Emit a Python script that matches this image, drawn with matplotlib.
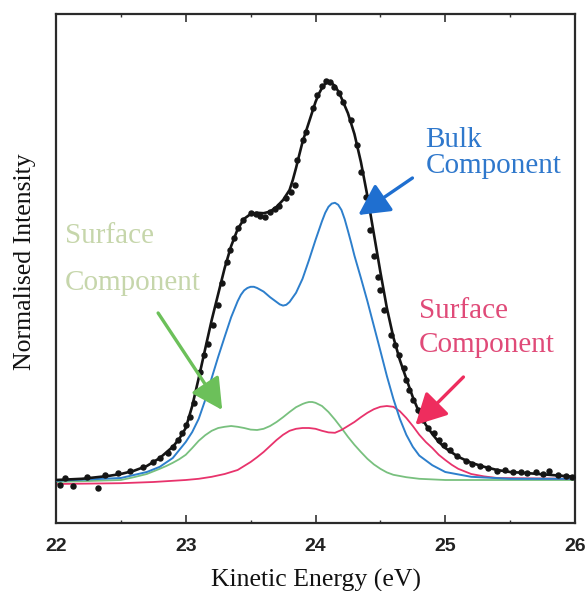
import matplotlib
matplotlib.use("Agg")
import matplotlib.pyplot as plt
from matplotlib.ticker import MultipleLocator, NullLocator

# ---------------- data ----------------
# measured data points (dots)
dot_energy = [22.03, 22.07, 22.13, 22.24, 22.32, 22.38, 22.48, 22.57, 22.67, 22.75,
              22.80, 22.86, 22.90, 22.94, 22.97, 23.00, 23.03, 23.06, 23.09, 23.11,
              23.14, 23.17, 23.21, 23.25, 23.28, 23.32, 23.34, 23.37, 23.40, 23.44,
              23.50, 23.54, 23.57, 23.61, 23.65, 23.69, 23.72, 23.77, 23.81, 23.84,
              23.86, 23.90, 23.93, 23.98, 24.01, 24.05, 24.08, 24.11, 24.14, 24.18,
              24.21, 24.27, 24.32, 24.35, 24.39, 24.42, 24.45, 24.48, 24.50, 24.53,
              24.58, 24.61, 24.64, 24.68, 24.70, 24.72, 24.75, 24.79, 24.83, 24.87,
              24.91, 24.95, 24.99, 25.04, 25.09, 25.16, 25.21, 25.27, 25.33, 25.40,
              25.46, 25.52, 25.58, 25.63, 25.70, 25.75, 25.80, 25.87, 25.93, 25.98]
dot_intensity = [-0.008, 0.010, -0.010, 0.013, -0.015, 0.018, 0.023, 0.028, 0.038, 0.050,
                 0.060, 0.073, 0.088, 0.105, 0.123, 0.143, 0.163, 0.198, 0.225, 0.275,
                 0.318, 0.345, 0.393, 0.443, 0.498, 0.550, 0.580, 0.610, 0.635, 0.655,
                 0.673, 0.670, 0.665, 0.663, 0.675, 0.683, 0.690, 0.710, 0.725, 0.743,
                 0.805, 0.855, 0.875, 0.935, 0.968, 0.990, 1.003, 1.000, 0.988, 0.973,
                 0.950, 0.905, 0.843, 0.775, 0.713, 0.630, 0.565, 0.513, 0.480, 0.430,
                 0.368, 0.343, 0.318, 0.285, 0.255, 0.230, 0.205, 0.180, 0.155, 0.135,
                 0.123, 0.105, 0.093, 0.080, 0.065, 0.053, 0.045, 0.040, 0.035, 0.028,
                 0.030, 0.025, 0.025, 0.023, 0.025, 0.020, 0.028, 0.018, 0.015, 0.013]

# total fit (black line)
fit_energy = [22.0, 22.2, 22.4, 22.5, 22.6, 22.7, 22.8, 22.9, 22.95, 23.0, 23.05, 23.1,
              23.15, 23.2, 23.25, 23.3, 23.35, 23.4, 23.45, 23.5, 23.55, 23.6, 23.65,
              23.7, 23.75, 23.8, 23.825, 23.85, 23.875, 23.9, 23.95, 24.0, 24.025, 24.05,
              24.075, 24.1, 24.125, 24.15, 24.175, 24.2, 24.25, 24.3, 24.35, 24.4, 24.45,
              24.5, 24.55, 24.6, 24.65, 24.7, 24.75, 24.8, 24.85, 24.9, 24.95, 25.0,
              25.1, 25.2, 25.3, 25.4, 25.5, 25.6, 25.8, 26.0]
fit_intensity = [0.005, 0.008, 0.015, 0.020, 0.028, 0.040, 0.060, 0.088, 0.108, 0.135,
                 0.190, 0.260, 0.333, 0.405, 0.470, 0.535, 0.590, 0.632, 0.658, 0.670,
                 0.673, 0.672, 0.676, 0.688, 0.705, 0.730, 0.755, 0.785, 0.818, 0.850,
                 0.900, 0.950, 0.970, 0.985, 0.996, 1.000, 0.997, 0.990, 0.977, 0.960,
                 0.922, 0.870, 0.800, 0.715, 0.620, 0.525, 0.435, 0.362, 0.305, 0.258,
                 0.212, 0.173, 0.143, 0.120, 0.100, 0.085, 0.063, 0.048, 0.038, 0.030,
                 0.025, 0.023, 0.018, 0.013]

# bulk component (blue)
bulk_energy = [22.0, 22.5, 22.7, 22.8, 22.9, 23.0, 23.05, 23.1, 23.15, 23.2, 23.25,
               23.3, 23.35, 23.4, 23.425, 23.45, 23.475, 23.5, 23.525, 23.55, 23.6,
               23.65, 23.7, 23.725, 23.75, 23.775, 23.8, 23.85, 23.9, 23.95, 24.0, 24.05,
               24.075, 24.1, 24.125, 24.15, 24.175, 24.2, 24.225, 24.25, 24.275, 24.3,
               24.35, 24.4, 24.45, 24.5, 24.55, 24.6, 24.65, 24.7, 24.75, 24.8, 24.9,
               25.0, 25.2, 25.5, 26.0]
bulk_intensity = [0.003, 0.010, 0.025, 0.038, 0.060, 0.100, 0.125, 0.158, 0.205, 0.260,
                  0.313, 0.363, 0.412, 0.452, 0.468, 0.479, 0.485, 0.488, 0.488, 0.485,
                  0.476, 0.462, 0.450, 0.444, 0.441, 0.443, 0.450, 0.473, 0.508, 0.555,
                  0.605, 0.652, 0.673, 0.688, 0.696, 0.698, 0.693, 0.680, 0.657, 0.628,
                  0.598, 0.566, 0.510, 0.452, 0.390, 0.328, 0.265, 0.208, 0.158, 0.118,
                  0.088, 0.066, 0.042, 0.025, 0.013, 0.008, 0.008]

# surface component (green)
surf1_energy = [22.0, 22.5, 22.6, 22.7, 22.8, 22.85, 22.9, 22.95, 23.0, 23.05, 23.1,
                23.15, 23.2, 23.25, 23.3, 23.35, 23.4, 23.45, 23.5, 23.55, 23.6, 23.65,
                23.7, 23.75, 23.8, 23.85, 23.9, 23.925, 23.95, 23.975, 24.0, 24.05, 24.1,
                24.15, 24.2, 24.25, 24.3, 24.35, 24.4, 24.45, 24.5, 24.55, 24.6, 24.7,
                24.8, 25.0, 26.0]
surf1_intensity = [0.000, 0.005, 0.012, 0.020, 0.033, 0.040, 0.048, 0.057, 0.068, 0.085,
                   0.103, 0.117, 0.128, 0.135, 0.138, 0.140, 0.138, 0.135, 0.131, 0.130,
                   0.133, 0.140, 0.150, 0.162, 0.175, 0.187, 0.195, 0.198, 0.200, 0.200,
                   0.198, 0.190, 0.175, 0.156, 0.135, 0.113, 0.093, 0.075, 0.058, 0.044,
                   0.033, 0.024, 0.018, 0.012, 0.008, 0.005, 0.005]

# surface component (pink)
surf2_energy = [22.0, 22.5, 22.75, 23.0, 23.1, 23.2, 23.3, 23.4, 23.45, 23.5, 23.55,
                23.6, 23.65, 23.7, 23.75, 23.8, 23.85, 23.9, 23.95, 24.0, 24.05, 24.1,
                24.15, 24.2, 24.25, 24.3, 24.35, 24.4, 24.45, 24.5, 24.55, 24.6, 24.65,
                24.7, 24.75, 24.8, 24.85, 24.9, 24.95, 25.0, 25.05, 25.1, 25.2, 25.3,
                25.4, 26.0]
surf2_intensity = [-0.005, -0.003, 0.000, 0.005, 0.008, 0.013, 0.020, 0.030, 0.040, 0.050,
                   0.062, 0.075, 0.090, 0.105, 0.118, 0.128, 0.133, 0.135, 0.135, 0.133,
                   0.128, 0.124, 0.123, 0.130, 0.140, 0.150, 0.162, 0.173, 0.182, 0.188,
                   0.190, 0.188, 0.177, 0.160, 0.140, 0.118, 0.100, 0.085, 0.068, 0.055,
                   0.043, 0.033, 0.020, 0.014, 0.010, 0.008]

x_ticks = [22, 23, 24, 25, 26]
x_tick_labels = ["22", "23", "24", "25", "26"]

# ---------------- styling ----------------
BLACK = "#151515"
BLUE = "#2d7fcc"
BLUE_TXT = "#2f78cc"
PINK = "#e8336c"
PINK_TXT = "#e04a78"
GREEN = "#78c07e"
GREEN_ARROW = "#6cc05a"
GREEN_TXT = "#c6d6ab"
SERIF = ["Liberation Serif", "DejaVu Serif"]

fig = plt.figure(figsize=(5.88, 5.91), dpi=100)
ax = fig.add_axes([56 / 588, 1 - 523 / 591, (575 - 56) / 588, (523 - 14) / 591])

ax.plot(surf1_energy, surf1_intensity, color=GREEN, lw=1.3, zorder=2)
ax.plot(surf2_energy, surf2_intensity, color=PINK, lw=1.3, zorder=2)
ax.plot(bulk_energy, bulk_intensity, color=BLUE, lw=1.4, zorder=3)
ax.plot(fit_energy, fit_intensity, color=BLACK, lw=1.9, zorder=4)
ax.plot(dot_energy, dot_intensity, "o", color=BLACK, ms=3.6, zorder=5)

ax.set_xlim(22, 26)
ax.set_ylim(-0.1025, 1.17)

ax.set_xticks(x_ticks)
ax.set_xticklabels(x_tick_labels, fontsize=14, fontweight="bold",
                   family=["Liberation Sans", "DejaVu Sans"], color="#222222")
ax.xaxis.set_minor_locator(MultipleLocator(0.5))
ax.yaxis.set_major_locator(NullLocator())
ax.tick_params(axis="x", which="major", direction="in", length=5.5, width=1.2,
               top=True, pad=11, colors="#333333", labelcolor="#222222")
ax.tick_params(axis="x", which="minor", direction="in", length=2.5, width=1.0,
               top=True, colors="#333333")
for s in ax.spines.values():
    s.set_linewidth(1.6)
    s.set_color("#2a2a2a")

fig.text(316 / 588, 4 / 591, "Kinetic Energy (eV)", ha="center", va="baseline",
         fontsize=18.5, family=SERIF, color="#111111")
fig.text(25 / 588, 1 - 262 / 591, "Normalised Intensity", ha="center", va="center",
         rotation=90, fontsize=18.5, family=SERIF, color="#111111")

# annotations
ax.text(24.847, (482 - 147) / 400, "Bulk", color=BLUE_TXT, fontsize=21, family=SERIF,
        ha="left", va="baseline")
ax.text(24.847, (482 - 173) / 400, "Component", color=BLUE_TXT, fontsize=21, family=SERIF,
        ha="left", va="baseline")
ax.text(24.795, (482 - 318) / 400, "Surface", color=PINK_TXT, fontsize=21, family=SERIF,
        ha="left", va="baseline")
ax.text(24.795, (482 - 352) / 400, "Component", color=PINK_TXT, fontsize=21, family=SERIF,
        ha="left", va="baseline")
ax.text(22.07, (482 - 243) / 400, "Surface", color=GREEN_TXT, fontsize=21, family=SERIF,
        ha="left", va="baseline")
ax.text(22.07, (482 - 290) / 400, "Component", color=GREEN_TXT, fontsize=21, family=SERIF,
        ha="left", va="baseline")

def arrow(tail, tip, color):
    ax.annotate("", xy=tip, xytext=tail,
                arrowprops=dict(arrowstyle="-|>,head_length=0.95,head_width=0.5",
                                color=color, lw=2.4, mutation_scale=20,
                                shrinkA=0, shrinkB=0), zorder=6)

arrow((22.787, 0.4225), (23.281, 0.18), GREEN_ARROW)
arrow((24.747, 0.76), (24.33, 0.6675), "#1f6fd0")
arrow((25.14, 0.2625), (24.77, 0.1425), "#ee2d5e")

fig.savefig("out.png", dpi=100)
